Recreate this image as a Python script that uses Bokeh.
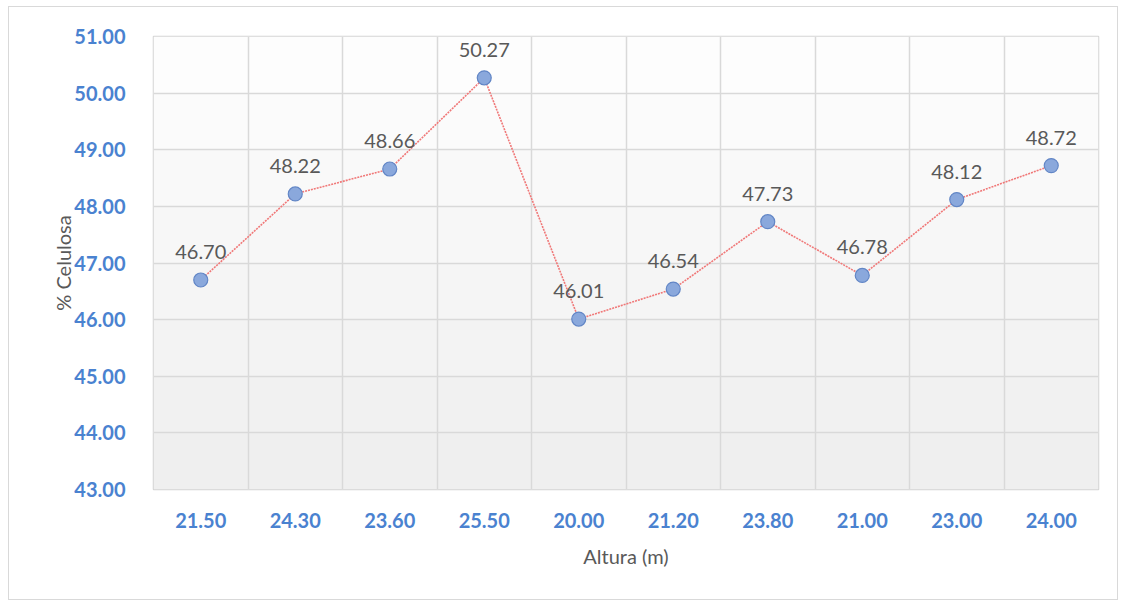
from bokeh.plotting import figure
from bokeh.models import ColumnDataSource, FixedTicker, Range1d, BoxAnnotation, LabelSet
from bokeh.core.properties import value
from bokeh.embed import file_html
from bokeh.resources import INLINE

# ---- data ----
alturas = ["21.50", "24.30", "23.60", "25.50", "20.00", "21.20", "23.80", "21.00", "23.00", "24.00"]
celulosa = [46.70, 48.22, 48.66, 50.27, 46.01, 46.54, 47.73, 46.78, 48.12, 48.72]
y_ticks = [43, 44, 45, 46, 47, 48, 49, 50, 51]

n = len(alturas)
xs = [i + 0.5 for i in range(n)]
src = ColumnDataSource(dict(x=xs, y=celulosa, lab=[f"{v:.2f}" for v in celulosa]))

p = figure(width=1110, height=594, output_backend="svg", toolbar_location=None,
           x_range=Range1d(0, n), y_range=Range1d(y_ticks[0], y_ticks[-1]),
           min_border_left=144, min_border_right=21, min_border_top=29, min_border_bottom=112,
           margin=(6, 9, 6, 8))
p.styles = {"border": "1px solid #d9d9d9"}

# background gradient bands (light at top, grayer at bottom)
shades = ["#efefef", "#f1f1f1", "#f3f3f3", "#f5f5f5", "#f7f7f7", "#f9f9f9", "#fbfbfb", "#fdfdfd"]
for k in range(len(y_ticks) - 1):
    p.add_layout(BoxAnnotation(bottom=y_ticks[k], top=y_ticks[k + 1], fill_color=shades[k],
                               fill_alpha=1, line_color=None, level="image"))

p.outline_line_color = "#d4d4d4"
p.outline_line_width = 1.5

# axes
p.xaxis.ticker = FixedTicker(ticks=xs)
p.xaxis.major_label_overrides = {x: a for x, a in zip(xs, alturas)}
p.yaxis.ticker = FixedTicker(ticks=y_ticks)
p.yaxis.major_label_overrides = {t: f"{t:.2f}" for t in y_ticks}
for ax in (p.xaxis[0], p.yaxis[0]):
    ax.axis_line_color = None
    ax.major_tick_line_color = None
    ax.minor_tick_line_color = None
    ax.major_label_text_font = "Lato"
    ax.major_label_text_font_style = "bold"
    ax.major_label_text_font_size = "20px"
    ax.major_label_text_color = "#4a82d0"
    ax.axis_label_text_font = "Lato"
    ax.axis_label_text_font_style = "normal"
    ax.axis_label_text_font_size = "20px"
    ax.axis_label_text_color = "#595959"
p.xaxis.major_label_standoff = 17
p.yaxis.major_label_standoff = 22
p.xaxis.axis_label = "Altura (m)"
p.yaxis.axis_label = "% Celulosa"
p.xaxis.axis_label_standoff = 13
p.yaxis.axis_label_standoff = -4

# grid
p.xgrid.ticker = FixedTicker(ticks=list(range(n + 1)))
p.ygrid.ticker = FixedTicker(ticks=y_ticks)
p.xgrid.grid_line_color = "#d9d9d9"
p.ygrid.grid_line_color = "#d9d9d9"
p.xgrid.grid_line_width = 1.5
p.ygrid.grid_line_width = 1.5

# series
p.line("x", "y", source=src, line_color="#f07878", line_width=1.6, line_dash="2 1")
p.scatter("x", "y", source=src, size=14, fill_color="#8aa8dc", line_color="#6286c6", line_width=1.2)

labels = LabelSet(x="x", y="y", text="lab", source=src, text_align="center", text_baseline="bottom",
                  y_offset=21, text_font=value("Lato"), text_font_size="20px", text_color="#595959")
p.add_layout(labels)

open("out.html", "w").write(file_html(p, INLINE))
